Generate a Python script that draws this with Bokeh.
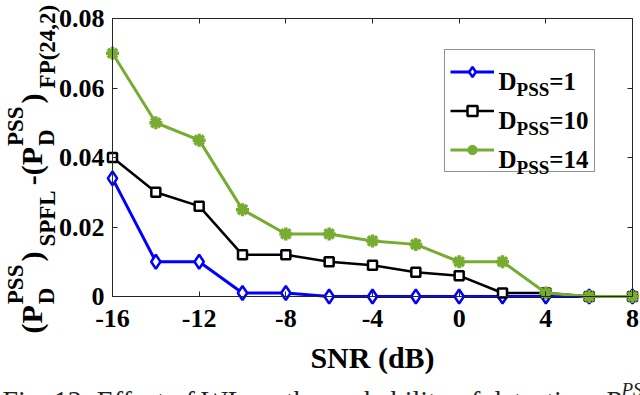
import math
from bokeh.plotting import figure
from bokeh.models import Range1d, LinearAxis, FixedTicker, Label, Legend, LegendItem
from bokeh.embed import file_html
from bokeh.resources import INLINE

# ---------------- data ----------------
snr = [-16, -14, -12, -10, -8, -6, -4, -2, 0, 2, 4, 6, 8]
d_pss_1 = [0.034, 0.010, 0.010, 0.001, 0.001, 0.0, 0.0, 0.0, 0.0, 0.0, 0.0, 0.0, 0.0]
d_pss_10 = [0.040, 0.030, 0.026, 0.012, 0.012, 0.010, 0.009, 0.007, 0.006, 0.001, 0.001, 0.0, 0.0]
d_pss_14 = [0.070, 0.050, 0.045, 0.025, 0.018, 0.018, 0.016, 0.015, 0.010, 0.010, 0.001, 0.0, 0.0]
series_values = ["=1", "=10", "=14"]
x_ticks = [-16, -12, -8, -4, 0, 4, 8]
x_tick_labels = ["-16", "-12", "-8", "-4", "0", "4", "8"]
y_ticks = [0, 0.02, 0.04, 0.06, 0.08]
y_tick_labels = ["0", "0.02", "0.04", "0.06", "0.08"]
x_label = "SNR (dB)"
caption = "Fig. 12: Effect of WL on the probability of detection,"
X_MIN, X_MAX = -16, 8
Y_MIN, Y_MAX = 0, 0.08

# ---------------- layout (canvas pixels) ----------------
W, H = 640, 395
FL, FR, FT, FB = 112, 632, 18, 296          # axes box inside the canvas
SERIF = "Liberation Serif"
AX = "#262626"
BLUE, BLACK, GREEN = "#0000FF", "#000000", "#77AC30"

# the plotting frame covers the whole canvas; the axes box is placed with fixed axes
kx = (FR - FL) / (X_MAX - X_MIN)
ky = (FB - FT) / (Y_MAX - Y_MIN)
x_range = Range1d(X_MIN - FL / kx, X_MAX + (W - FR) / kx)
y_range = Range1d(Y_MIN - (H - FB) / ky, Y_MAX + FT / ky)

p = figure(width=W, height=H, x_range=x_range, y_range=y_range,
           output_backend="svg", toolbar_location=None,
           min_border=0, min_border_left=0, min_border_right=0, min_border_top=0, min_border_bottom=0,
           x_axis_location=None, y_axis_location=None)
p.grid.visible = False
p.outline_line_color = None
p.background_fill_color = "white"
p.border_fill_color = "white"

def make_axis(side, ticks, labels, fixed, bounds, show, standoff):
    ax = LinearAxis(fixed_location=fixed, bounds=bounds)
    ax.ticker = FixedTicker(ticks=ticks)
    ax.minor_tick_line_color = None
    ax.major_tick_in = 5
    ax.major_tick_out = 0
    ax.axis_line_color = AX
    ax.major_tick_line_color = AX
    ax.major_label_overrides = {t: s for t, s in zip(ticks, labels)}
    ax.major_label_text_font = SERIF
    ax.major_label_text_font_style = "bold"
    ax.major_label_text_color = "black"
    ax.major_label_text_font_size = "26px" if show else "0px"
    if not show:
        ax.major_label_text_alpha = 0
    ax.major_label_standoff = standoff
    p.add_layout(ax, side)
    return ax

make_axis("below", x_ticks, x_tick_labels, Y_MIN, (X_MIN, X_MAX), True, 13)
make_axis("left", y_ticks, y_tick_labels, X_MIN, (Y_MIN, Y_MAX), True, 8)
make_axis("above", x_ticks, x_tick_labels, Y_MAX, (X_MIN, X_MAX), False, 0)
make_axis("right", y_ticks, y_tick_labels, X_MAX, (Y_MIN, Y_MAX), False, 0)

# ---------------- series ----------------
l1 = p.line(snr, d_pss_1, line_color=BLUE, line_width=3)
m1 = p.scatter(snr, d_pss_1, marker="diamond", size=14, line_color=BLUE, fill_color="white", line_width=2.5)
l2 = p.line(snr, d_pss_10, line_color=BLACK, line_width=2.5)
m2 = p.scatter(snr, d_pss_10, marker="square", size=9, line_color=BLACK, fill_color="white", line_width=2.5)
l3 = p.line(snr, d_pss_14, line_color=GREEN, line_width=3)
m3 = p.scatter(snr, d_pss_14, marker="asterisk", size=13, line_color=GREEN, line_width=3.5)

# ---------------- legend ----------------
LEG_L, LEG_T, LEG_W, LEG_H = 444, 51, 149, 121
PAD, GW, GH, ROWH, SP, STAND = 5, 44, 25, 33, 6, 5
legend = Legend(items=[LegendItem(label=" ", renderers=[l1, m1]),
                       LegendItem(label=" ", renderers=[l2, m2]),
                       LegendItem(label=" ", renderers=[l3, m3])],
                location=(LEG_L, H - (LEG_T + LEG_H)), margin=0, padding=PAD,
                glyph_width=GW, glyph_height=GH, label_height=ROWH, spacing=SP,
                label_standoff=STAND, label_width=LEG_W - 2 * PAD - GW - STAND,
                label_text_font_size="10px", border_line_color=AX, border_line_width=1,
                background_fill_color="white", background_fill_alpha=0)
p.add_layout(legend)

def lab(text, X, Y, size, style="bold", angle=0.0, align="left", color="black"):
    p.add_layout(Label(x=X, y=H - Y, x_units="screen", y_units="screen", text=text,
                       angle=angle, text_align=align, text_baseline="alphabetic",
                       text_font=SERIF, text_font_style=style, text_font_size=f"{size}px",
                       text_color=color, level="overlay"))

ADV = {"(": .333, ")": .333, "P": .611, "S": .556, "D": .722, "F": .611, "L": .667,
       "-": .333, "2": .5, "4": .5, ",": .25, "=": .570, "1": .5, "0": .5}
def adv(s, size):
    return sum(ADV[c] for c in s) * size

# legend texts
LX = LEG_L + PAD + GW + STAND
LM, LS = 25, 19
for i, v in enumerate(series_values):
    cy = LEG_T + PAD + ROWH / 2 + i * (ROWH + SP)
    base = cy + 8
    lab("D", LX, base, LM)
    lab("PSS", LX + adv("D", LM), base + 8, LS)
    lab(v, LX + adv("D", LM) + adv("PSS", LS), base, LM)

# x axis label
lab(x_label, (FL + FR) / 2, 357, 30, align="center")

# y axis label, composed piece by piece (rotated)
M, S = 30, 23
XB_MAIN, XB_SUP, XB_SUBD, XB_SUB = 31, 15, 46, 47
A = math.pi / 2
pos = 333
def put(t, size, xb):
    lab(t, xb, pos, size, angle=A)

for grp in range(2):
    first = "(" if grp == 0 else "-("
    put(first, M, XB_MAIN); pos -= adv(first, M)
    put("P", M, XB_MAIN); pos -= adv("P", M) + 1
    put("PSS", S, XB_SUP); put("D", S, XB_SUBD); pos -= adv("PSS", S) + 3
    put(")", M, XB_MAIN); pos -= adv(")", M) + 5
    sub = "SPFL" if grp == 0 else "FP(24,2)"
    put(sub, S, XB_SUB); pos -= adv(sub, S) + 5

# caption (partly cut off at the bottom, as in the reference)
lab(caption, 2, 400, 28, style="normal", color="#222222")
lab("P", 604, 400, 28, style="italic", color="#222222")
lab("PSS", 621, 389, 19, style="italic", color="#222222")

html = file_html(p, INLINE)
html = html.replace("<head>", "<head><style>html,body{margin:0 !important;padding:0 !important;overflow:hidden;}</style>", 1)
open("out.html", "w").write(html)
